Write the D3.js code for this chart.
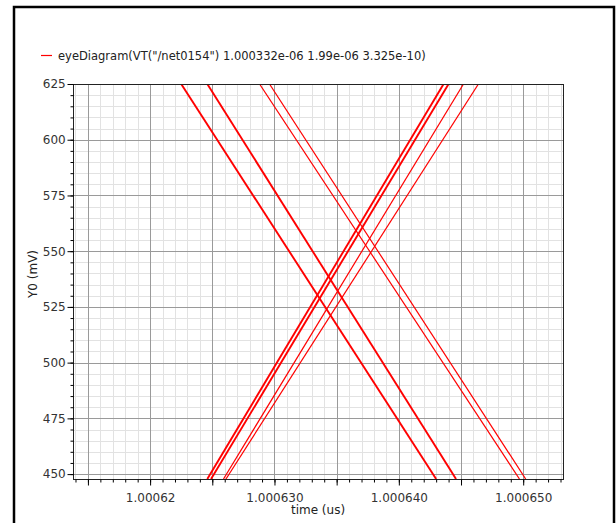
<!DOCTYPE html>
<html>
<head>
<meta charset="utf-8">
<script src="https://cdn.jsdelivr.net/npm/d3@7"></script>
<style>
  body { margin: 0; background: #fff; }
  svg { display: block; font-family: "DejaVu Sans", sans-serif; }
</style>
</head>
<body>
<svg id="chart" width="616" height="523"></svg>
<script>
// legend / series name
var seriesName = 'eyeDiagram(VT("/net0154") 1.000332e-06 1.99e-06 3.325e-10)';

// each trace crosses the plot: time (us) where it meets the top and the bottom edge
var traceVolts = [625, 447.8];
var fallTop    = [1.0006225, 1.0006246, 1.0006288, 1.0006296];
var fallBottom = [1.0006430, 1.0006446, 1.0006497, 1.0006502];
var riseBottom = [1.0006246, 1.0006249, 1.0006259, 1.0006261];
var riseTop    = [1.0006436, 1.0006440, 1.0006452, 1.0006464];

// axes
var xDomain = [1.0006138, 1.0006532];
var yDomain = [447.8, 625];
var xMajorTicks = [1.000615, 1.00062, 1.000625, 1.00063, 1.000635, 1.00064, 1.000645, 1.00065];
var xTickLabels = { "1.00062": "1.00062", "1.00063": "1.000630", "1.00064": "1.000640", "1.00065": "1.000650" };
var yMajorTicks = [450, 475, 500, 525, 550, 575, 600, 625];

var svg = d3.select("#chart");

// outer frame
svg.append("rect")
  .attr("x", 14).attr("y", 7)
  .attr("width", 600).attr("height", 530)
  .attr("fill", "none").attr("stroke", "#000").attr("stroke-width", 2.5);

var m = { left: 73, top: 84, right: 563, bottom: 479 };
var x = d3.scaleLinear().domain(xDomain).range([m.left, m.right]);
var y = d3.scaleLinear().domain(yDomain).range([m.bottom, m.top]);

var xMinor = d3.range(0, 40).map(function (i) { return 1.000614 + i * 1e-6; })
  .filter(function (t) { return t >= xDomain[0] && t <= xDomain[1]; });
var yMinor = d3.range(450, 626, 5);

var grid = svg.append("g");
// minor grid
grid.selectAll(".vx").data(xMinor).enter().append("line")
  .attr("x1", function (d) { return Math.round(x(d)) + 0.5; })
  .attr("x2", function (d) { return Math.round(x(d)) + 0.5; })
  .attr("y1", m.top).attr("y2", m.bottom)
  .attr("stroke", "#e2e2e2");
grid.selectAll(".hy").data(yMinor).enter().append("line")
  .attr("y1", function (d) { return Math.round(y(d)) + 0.5; })
  .attr("y2", function (d) { return Math.round(y(d)) + 0.5; })
  .attr("x1", m.left).attr("x2", m.right)
  .attr("stroke", "#e2e2e2");
// major grid
grid.selectAll(".vX").data(xMajorTicks).enter().append("line")
  .attr("x1", function (d) { return Math.round(x(d)) + 0.5; })
  .attr("x2", function (d) { return Math.round(x(d)) + 0.5; })
  .attr("y1", m.top).attr("y2", m.bottom)
  .attr("stroke", "#9a9a9a");
grid.selectAll(".hY").data(yMajorTicks).enter().append("line")
  .attr("y1", function (d) { return Math.round(y(d)) + 0.5; })
  .attr("y2", function (d) { return Math.round(y(d)) + 0.5; })
  .attr("x1", m.left).attr("x2", m.right)
  .attr("stroke", "#9a9a9a");

// traces
var traces = [];
fallTop.forEach(function (t, i) { traces.push({ pts: [[t, traceVolts[0]], [fallBottom[i], traceVolts[1]]], i: i }); });
riseBottom.forEach(function (t, i) { traces.push({ pts: [[t, traceVolts[1]], [riseTop[i], traceVolts[0]]], i: i }); });

svg.append("clipPath").attr("id", "clip").append("rect")
  .attr("x", m.left).attr("y", m.top)
  .attr("width", m.right - m.left).attr("height", m.bottom - m.top);

var line = d3.line().x(function (d) { return x(d[0]); }).y(function (d) { return y(d[1]); });
svg.append("g").attr("clip-path", "url(#clip)")
  .selectAll("path").data(traces).enter().append("path")
  .attr("d", function (d) { return line(d.pts); })
  .attr("fill", "none")
  .attr("stroke", "#ff0000")
  .attr("stroke-width", function (d) { return d.i < 2 ? 1.9 : 1.2; });

// plot border
svg.append("rect")
  .attr("x", m.left + 0.5).attr("y", m.top + 0.5)
  .attr("width", m.right - m.left).attr("height", m.bottom - m.top)
  .attr("fill", "none").attr("stroke", "#222");

// axes
var xAxisMajor = d3.axisBottom(x).tickValues(xMajorTicks).tickSize(6)
  .tickFormat(function (d) { return xTickLabels[String(+d.toFixed(6))] || ""; });
var xAxisMinor = d3.axisBottom(x).tickValues(xMinor).tickSize(3).tickFormat("");
var yAxisMajor = d3.axisLeft(y).tickValues(yMajorTicks).tickSize(6).tickFormat(d3.format("d"));
var yAxisMinor = d3.axisLeft(y).tickValues(yMinor).tickSize(3).tickFormat("");

function styleAxis(g) {
  g.select(".domain").remove();
  g.selectAll("line").attr("stroke", "#000");
  g.selectAll("text").attr("font-size", 12).attr("fill", "#333")
    .attr("font-family", "DejaVu Sans, sans-serif");
}
svg.append("g").attr("transform", "translate(0," + (m.bottom + 0.5) + ")").call(xAxisMinor).call(styleAxis);
svg.append("g").attr("transform", "translate(0," + (m.bottom + 0.5) + ")").call(xAxisMajor).call(styleAxis)
  .selectAll("text").attr("dy", "1.1em");
svg.append("g").attr("transform", "translate(" + (m.left + 0.5) + ",0)").call(yAxisMinor).call(styleAxis);
svg.append("g").attr("transform", "translate(" + (m.left + 0.5) + ",0)").call(yAxisMajor).call(styleAxis)
  .selectAll("text").attr("dx", "0.1em");

// axis titles
svg.append("text").attr("x", (m.left + m.right) / 2 + 0).attr("y", 514)
  .attr("text-anchor", "middle").attr("font-size", 12).attr("fill", "#222")
  .text("time (us)");
svg.append("text").attr("transform", "translate(37,274) rotate(-90)")
  .attr("text-anchor", "middle").attr("font-size", 12).attr("fill", "#222")
  .text("Y0 (mV)");

// legend
svg.append("line").attr("x1", 41).attr("x2", 52).attr("y1", 55.5).attr("y2", 55.5)
  .attr("stroke", "#ff0000").attr("stroke-width", 1.2);
svg.append("text").attr("x", 58).attr("y", 59.5)
  .attr("font-size", 11.5).attr("fill", "#222")
  .text(seriesName);
</script>
</body>
</html>
